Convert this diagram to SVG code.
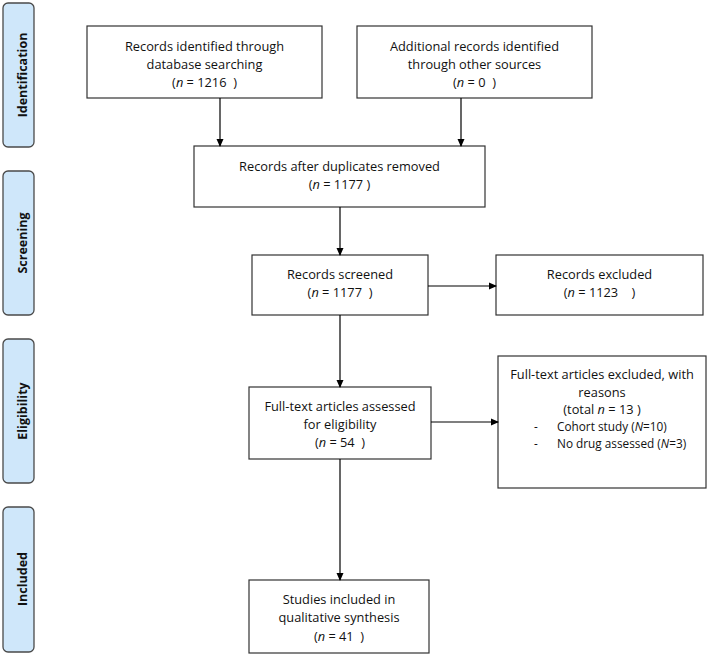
<svg xmlns="http://www.w3.org/2000/svg" width="709" height="655" viewBox="0 0 709 655">
<defs>
<marker id="ah" markerWidth="8" markerHeight="8" refX="7" refY="4" orient="auto" markerUnits="userSpaceOnUse">
<path d="M0,0.5 L8,4 L0,7.5 Z" fill="#000"/>
</marker>
<style>
.phase{fill:#cfe7fa;stroke:#4a4a4a;stroke-width:1.3}
.pt{font-family:"Open Sans","DejaVu Sans",sans-serif;font-weight:bold;font-size:12.5px;fill:#111;text-anchor:middle}
.box{fill:#fff;stroke:#333;stroke-width:1.2}
.t{font-family:"Open Sans","Liberation Sans",sans-serif;font-size:12.8px;fill:#111;text-anchor:middle}
.s{font-family:"Open Sans","Liberation Sans",sans-serif;font-size:11.8px;fill:#111}
.c{stroke:#000;stroke-width:1.2;fill:none;marker-end:url(#ah)}
</style>
</defs>
<rect width="709" height="655" fill="#fff"/>
<g id="phase-identification"><rect class="phase" x="3" y="3" width="31" height="144" rx="5"/><text class="pt" transform="translate(27,75) rotate(-90)">Identification</text></g>
<g id="phase-screening"><rect class="phase" x="3" y="171" width="31" height="144" rx="5"/><text class="pt" transform="translate(27,243) rotate(-90)">Screening</text></g>
<g id="phase-eligibility"><rect class="phase" x="3" y="339" width="31" height="144" rx="5"/><text class="pt" transform="translate(27,411) rotate(-90)">Eligibility</text></g>
<g id="phase-included"><rect class="phase" x="3" y="507" width="31" height="145" rx="5"/><text class="pt" transform="translate(27,579) rotate(-90)">Included</text></g>

<g id="db-search"><rect class="box" x="87" y="26" width="235" height="72"/>
<text class="t" x="204.5" y="51">Records identified through</text>
<text class="t" x="204.5" y="69">database searching</text>
<text class="t" x="204.5" y="87">(<tspan font-style="italic">n</tspan> = 1216 &#160;)</text></g>

<g id="other-sources"><rect class="box" x="357" y="26" width="235" height="72"/>
<text class="t" x="474.5" y="51">Additional records identified</text>
<text class="t" x="474.5" y="69">through other sources</text>
<text class="t" x="474.5" y="87">(<tspan font-style="italic">n</tspan> = 0 &#160;)</text></g>

<g id="duplicates"><rect class="box" x="194" y="146" width="291" height="61"/>
<text class="t" x="339.5" y="171">Records after duplicates removed</text>
<text class="t" x="339.5" y="189">(<tspan font-style="italic">n</tspan> = 1177 )</text></g>

<g id="screened"><rect class="box" x="252" y="255" width="176" height="60"/>
<text class="t" x="340" y="279">Records screened</text>
<text class="t" x="340" y="297">(<tspan font-style="italic">n</tspan> = 1177 &#160;)</text></g>

<g id="excluded"><rect class="box" x="496" y="255" width="207" height="60"/>
<text class="t" x="599.5" y="279">Records excluded</text>
<text class="t" x="599.5" y="297">(<tspan font-style="italic">n</tspan> = 1123 &#160; &#160;)</text></g>

<g id="fulltext"><rect class="box" x="249" y="387" width="182" height="72"/>
<text class="t" x="340" y="411">Full-text articles assessed</text>
<text class="t" x="340" y="429">for eligibility</text>
<text class="t" x="340" y="447">(<tspan font-style="italic">n</tspan> = 54 &#160;)</text></g>

<g id="fulltext-excluded"><rect class="box" x="498" y="356" width="208" height="132"/>
<text class="t" x="602" y="379">Full-text articles excluded, with</text>
<text class="t" x="602" y="397">reasons</text>
<text class="t" x="602" y="414">(total <tspan font-style="italic">n</tspan> = 13 )</text>
<text class="s" x="534" y="431">-</text><text class="s" x="557" y="431">Cohort study (<tspan font-style="italic">N</tspan>=10)</text>
<text class="s" x="534" y="448">-</text><text class="s" x="557" y="448">No drug assessed (<tspan font-style="italic">N</tspan>=3)</text></g>

<g id="included"><rect class="box" x="249" y="580" width="180" height="73"/>
<text class="t" x="339" y="604">Studies included in</text>
<text class="t" x="339" y="622">qualitative synthesis</text>
<text class="t" x="339" y="641">(<tspan font-style="italic">n</tspan> = 41 &#160;)</text></g>

<g id="connectors">
<line class="c" x1="220" y1="98" x2="220" y2="146"/>
<line class="c" x1="461" y1="98" x2="461" y2="146"/>
<line class="c" x1="340" y1="207" x2="340" y2="255"/>
<line class="c" x1="428" y1="286" x2="496" y2="286"/>
<line class="c" x1="340" y1="315" x2="340" y2="387"/>
<line class="c" x1="431" y1="422" x2="498" y2="422"/>
<line class="c" x1="340" y1="459" x2="340" y2="580"/>
</g>
</svg>
